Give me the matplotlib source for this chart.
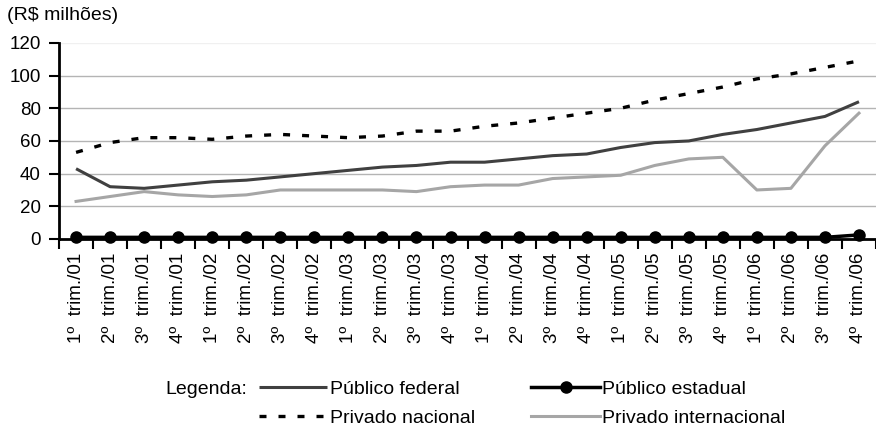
import matplotlib
matplotlib.use('Agg')
import matplotlib.pyplot as plt
import numpy as np

plt.rcParams['font.family'] = ['Liberation Sans', 'DejaVu Sans']

# trimestres 2001-2006
quarters = [f"{q}º  trim./{y:02d}" for y in range(1, 7) for q in range(1, 5)]

publico_federal = [43, 32, 31, 33, 35, 36, 38, 40, 42, 44, 45, 47,
                   47, 49, 51, 52, 56, 59, 60, 64, 67, 71, 75, 84]
publico_estadual = [1, 1, 1, 1, 1, 1, 1, 1, 1, 1, 1, 1,
                    1, 1, 1, 1, 1, 1, 1, 1, 1, 1, 1, 2.5]
privado_nacional = [53, 59, 62, 62, 61, 63, 64, 63, 62, 63, 66, 66,
                    69, 71, 74, 77, 80, 85, 89, 93, 98, 101, 105, 109]
privado_internacional = [23, 26, 29, 27, 26, 27, 30, 30, 30, 30, 29, 32,
                         33, 33, 37, 38, 39, 45, 49, 50, 30, 31, 57, 77]

yticks = [0, 20, 40, 60, 80, 100, 120]

fig = plt.figure(figsize=(8.76, 4.29), dpi=100)
ax = fig.add_axes([0.0674, 0.4429, 0.9326, 0.4571])

x = np.arange(len(quarters))

l_fed, = ax.plot(x, publico_federal, color='#404040', lw=2.2, solid_capstyle='butt')
l_int, = ax.plot(x, privado_internacional, color='#a6a6a6', lw=2.2)
l_nac, = ax.plot(x, privado_nacional, color='black', lw=2.4, dashes=(2.1, 3.6),
                 dash_capstyle='butt')
l_est, = ax.plot(x, publico_estadual, color='black', lw=2.5, marker='o',
                 markersize=8, clip_on=False, zorder=5)

ax.set_xlim(-0.5, len(quarters) - 0.5)
ax.set_ylim(0, 120)
ax.set_yticks(yticks)
ax.tick_params(axis='y', labelsize=13.5, length=7, width=1.5, direction='out', pad=6)

ax.set_xticks(x)
ax.set_xticklabels(quarters, rotation=90, fontsize=13.5)
ax.set_xticks(np.arange(-0.5, len(quarters)), minor=True)
ax.tick_params(axis='x', which='major', length=0, pad=10)
ax.tick_params(axis='x', which='minor', length=7, width=1.5, direction='out')

for s in ['top', 'right']:
    ax.spines[s].set_visible(False)
for s in ['left', 'bottom']:
    ax.spines[s].set_linewidth(2)
    ax.spines[s].set_color('black')

ax.yaxis.grid(True, color='#b4b4b4', lw=1)
ax.set_axisbelow(True)
ax.get_ygridlines()[-1].set_color('#f0f0f0')

fig.text(0.008, 1 - 15 / 429, "(R$ milhões)", fontsize=14, va='center', ha='left')

fig.text(165 / 876, 1 - 389 / 429, "Legenda:", fontsize=14, va='center', ha='left')
fig.legend([l_fed, l_nac, l_est, l_int],
           ["Público federal", "Privado nacional", "Público estadual", "Privado internacional"],
           ncol=2, frameon=False, loc='upper left',
           bbox_to_anchor=(259 / 876, 1 - 380 / 429),
           fontsize=14, handlelength=3.5, handletextpad=0.15,
           columnspacing=2.9, labelspacing=0.6, borderpad=0, borderaxespad=0)

fig.savefig('out.png', dpi=100)
